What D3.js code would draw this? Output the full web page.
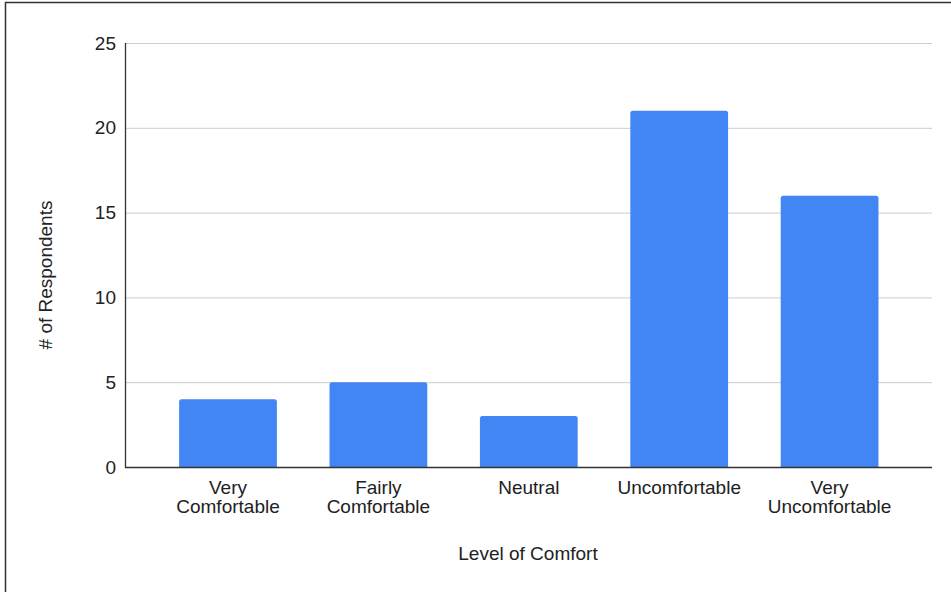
<!DOCTYPE html>
<html>
<head>
<meta charset="utf-8">
<script src="https://cdn.jsdelivr.net/npm/d3@7"></script>
<style>
  html, body { margin: 0; padding: 0; background: #fff; }
  svg { display: block; font-family: "Liberation Sans", Arial, sans-serif; }
</style>
</head>
<body>
<svg id="chart" width="951" height="592"></svg>
<script>
// Survey responses: comfort level
const categories = [
  ["Very", "Comfortable"],
  ["Fairly", "Comfortable"],
  ["Neutral"],
  ["Uncomfortable"],
  ["Very", "Uncomfortable"]
];
const respondents = [4, 5, 3, 21, 16];
const yTicks = [0, 5, 10, 15, 20, 25];
const xTitle = "Level of Comfort";
const yTitle = "# of Respondents";

const svg = d3.select("#chart");
const W = 951, H = 592;
const FS = 19;

// frame
svg.append("rect")
  .attr("x", 5.5).attr("y", 2.5)
  .attr("width", W).attr("height", H)
  .attr("fill", "none").attr("stroke", "#333").attr("stroke-width", 1.5);

const plot = { left: 126, right: 932, top: 43, bottom: 467 };

const keys = categories.map(c => c.join(" "));
const x = d3.scaleBand()
  .domain(keys)
  .range([152.8, 904.8])
  .paddingInner(0.35)
  .paddingOuter(0.175);

const y = d3.scaleLinear().domain([0, 25]).range([plot.bottom, plot.top]);

// gridlines
svg.append("g")
  .selectAll("line")
  .data(yTicks.filter(t => t > 0))
  .join("line")
  .attr("x1", plot.left).attr("x2", plot.right)
  .attr("y1", d => y(d) + 0.5).attr("y2", d => y(d) + 0.5)
  .attr("stroke", "#ccc").attr("stroke-width", 1);

// y tick labels
svg.append("g")
  .selectAll("text")
  .data(yTicks)
  .join("text")
  .attr("x", 116).attr("y", d => y(d))
  .attr("dy", "0.35em")
  .attr("text-anchor", "end")
  .attr("font-size", FS)
  .attr("fill", "#222")
  .text(d => d);

// bars
const bw = x.bandwidth();
svg.append("g")
  .selectAll("path")
  .data(respondents)
  .join("path")
  .attr("fill", "#4285F4")
  .attr("d", (d, i) => {
    const x0 = x(keys[i]), y0 = y(d), y1 = y(0), r = 2.5;
    return `M${x0},${y1}V${y0 + r}Q${x0},${y0} ${x0 + r},${y0}H${x0 + bw - r}Q${x0 + bw},${y0} ${x0 + bw},${y0 + r}V${y1}Z`;
  });

// axes lines
svg.append("line")
  .attr("x1", plot.left - 0.5).attr("x2", plot.left - 0.5)
  .attr("y1", plot.top).attr("y2", plot.bottom + 1)
  .attr("stroke", "#333").attr("stroke-width", 1.3);
svg.append("line")
  .attr("x1", plot.left - 1).attr("x2", plot.right)
  .attr("y1", plot.bottom + 0.5).attr("y2", plot.bottom + 0.5)
  .attr("stroke", "#333").attr("stroke-width", 1.3);

// category labels
const xl = svg.append("g")
  .selectAll("text")
  .data(categories)
  .join("text")
  .attr("x", (d, i) => x(keys[i]) + bw / 2)
  .attr("y", 494)
  .attr("text-anchor", "middle")
  .attr("font-size", FS)
  .attr("fill", "#222");
xl.selectAll("tspan")
  .data(d => d)
  .join("tspan")
  .attr("x", function () { return d3.select(this.parentNode).attr("x"); })
  .attr("dy", (d, j) => j === 0 ? 0 : 18.5)
  .text(d => d);

// axis titles
svg.append("text")
  .attr("x", 528).attr("y", 560)
  .attr("text-anchor", "middle")
  .attr("font-size", FS)
  .attr("fill", "#222")
  .text(xTitle);

svg.append("text")
  .attr("transform", "translate(52,275) rotate(-90)")
  .attr("text-anchor", "middle")
  .attr("font-size", FS)
  .attr("fill", "#222")
  .text(yTitle);
</script>
</body>
</html>
